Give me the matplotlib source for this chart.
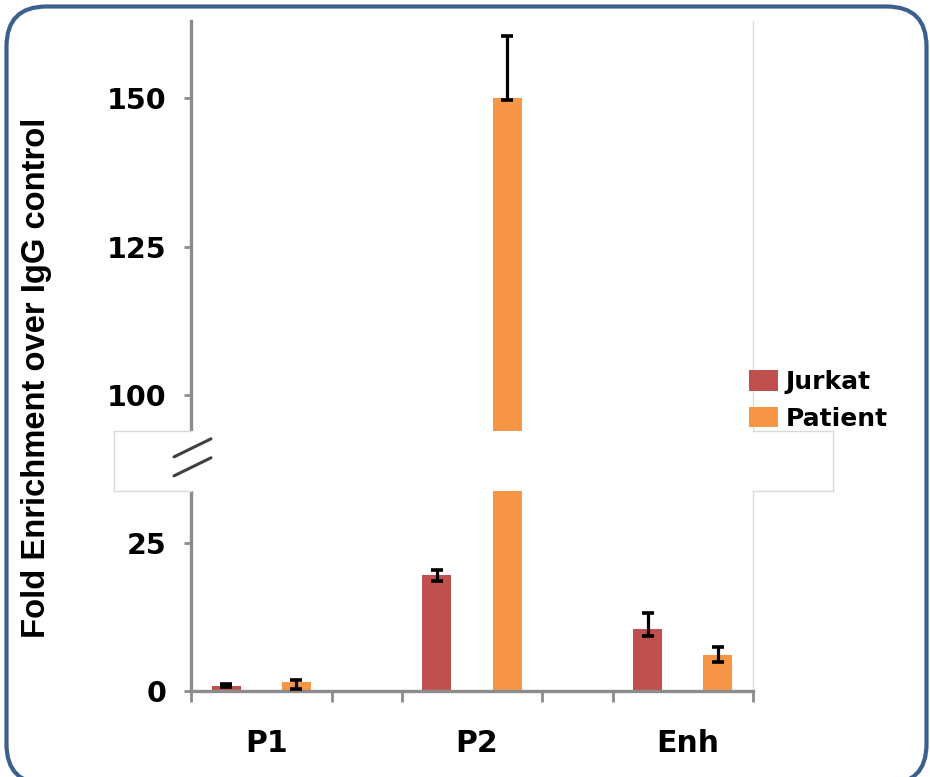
import matplotlib
matplotlib.use("Agg")
import matplotlib.pyplot as plt
from matplotlib.patches import FancyBboxPatch, Rectangle, Patch
from matplotlib.lines import Line2D
from matplotlib.transforms import IdentityTransform, ScaledTranslation
import numpy as np

plt.rcParams['font.family'] = ['DejaVu Sans']
plt.rcParams['font.weight'] = 'bold'

# ---- data ----
categories = ["P1", "P2", "Enh"]
series = ["Jurkat", "Patient"]
jurkat = [0.9, 19.6, 10.5]
jurkat_err_low = [0.2, 1.0, 1.2]
jurkat_err_high = [0.2, 0.8, 2.6]
patient = [1.5, 150.0, 6.1]
patient_err_low = [1.1, 0.3, 1.2]
patient_err_high = [0.3, 10.5, 1.4]
ytick_values = [0, 25, 100, 125, 150]

colors = {"Jurkat": "#C0504D", "Patient": "#F79646"}
BREAK_OFFSET = 50          # values above the break are shifted down by this
BREAK_LO, BREAK_HI = 33.7, 43.9   # displayed band hidden by the break (display units)

def disp(v):
    v = np.asarray(v, dtype=float)
    return np.where(v > BREAK_HI, v - BREAK_OFFSET, v)

W, H = 930, 777
fig = plt.figure(figsize=(W / 100, H / 100), dpi=100)
fig.patch.set_facecolor("white")

ax = fig.add_axes([191 / W, (H - 691) / H, 562 / W, (691 - 20.7) / H])
ax.set_xlim(-0.5, 7.5)
ax.set_ylim(0, 113.1)

# slots: Jurkat at 0,3,6 ; Patient at 1,4,7
x_j = np.arange(len(categories)) * 3
x_p = x_j + 1
bw = 0.41
ax.bar(x_j, disp(jurkat), width=bw, color=colors["Jurkat"], zorder=2)
ax.bar(x_p, disp(patient), width=bw, color=colors["Patient"], zorder=2)
ekw = dict(fmt="none", ecolor="black", elinewidth=2.3, capsize=4.5, capthick=2.6, zorder=3)
ax.errorbar(x_j, disp(jurkat), yerr=[jurkat_err_low, jurkat_err_high], **ekw)
ax.errorbar(x_p, disp(patient), yerr=[patient_err_low, patient_err_high], **ekw)

# spines
gray = "#8C8C8C"
ax.spines["top"].set_visible(False)
ax.spines["left"].set_color(gray)
ax.spines["left"].set_linewidth(2.4)
ax.spines["bottom"].set_color(gray)
ax.spines["bottom"].set_linewidth(2.4)
ax.spines["right"].set_color("#DDDDDD")
ax.spines["right"].set_linewidth(1.0)

# y ticks
ax.set_yticks(disp(ytick_values))
ax.set_yticklabels([str(v) for v in ytick_values])
ax.tick_params(axis="y", direction="out", length=5, width=2, color=gray,
               labelsize=20.5, pad=13)
for t in ax.get_yticklabels():
    t.set_fontweight("bold")

# x ticks
ax.set_xticks(x_j + 0.5)
ax.set_xticklabels(categories)
ax.tick_params(axis="x", which="major", length=0, labelsize=21.5, pad=27)
shift = ScaledTranslation(5 / 100, 0, fig.dpi_scale_trans)
for t in ax.get_xticklabels():
    t.set_fontweight("bold")
    t.set_transform(t.get_transform() + shift)
ax.set_xticks(np.arange(-0.5, 8.0, 1.0), minor=True)
ax.tick_params(axis="x", which="minor", direction="out", length=8, width=2, color=gray)

# y label
fig.text(37 / W, 1 - 378 / H, "Fold Enrichment over IgG control", rotation=90,
         ha="center", va="center", fontsize=23.6, fontweight="bold",
         family=["Liberation Sans", "DejaVu Sans"])

# break band
px = 562 / 8.0
x_left = -0.5 - (191 - 114) / px
x_right = 7.5 + (833 - 753) / px
ax.add_patch(Rectangle((x_left, BREAK_LO), x_right - x_left, BREAK_HI - BREAK_LO,
                       facecolor="white", edgecolor="none", zorder=5, clip_on=False))
edge = "#D9D9D9"
for xs, ys in [([x_left, -0.5], [BREAK_LO, BREAK_LO]), ([x_left, -0.5], [BREAK_HI, BREAK_HI]),
               ([x_left, x_left], [BREAK_LO, BREAK_HI]),
               ([7.5, x_right], [BREAK_LO, BREAK_LO]), ([7.5, x_right], [BREAK_HI, BREAK_HI]),
               ([x_right, x_right], [BREAK_LO, BREAK_HI])]:
    ax.add_line(Line2D(xs, ys, color=edge, lw=1.0, zorder=6, clip_on=False))
# break marks
xa, xb = -0.5 - 17 / px, -0.5 + 20 / px
for y0 in [39.5, 36.3]:
    ax.add_line(Line2D([xa, xb], [y0, y0 + 3.05], color="#404040", lw=2.2,
                       zorder=7, clip_on=False, solid_capstyle="round"))

# legend
handles = [Patch(facecolor=colors[s], edgecolor="none") for s in series]
leg = fig.legend(handles, series, loc="upper left", bbox_to_anchor=(749 / W, 1 - 370 / H),
                 frameon=False, fontsize=18, handlelength=1.15, handleheight=0.88,
                 handletextpad=0.3, labelspacing=0.5, borderpad=0, borderaxespad=0)
for t in leg.get_texts():
    t.set_fontweight("bold")

# rounded frame (pixel coords)
frame = FancyBboxPatch((6.5, H - 784), 920, 777.5, boxstyle="round,pad=0,rounding_size=40",
                       transform=IdentityTransform(), facecolor="none",
                       edgecolor="#3B5F8F", linewidth=3.0, clip_on=False)
fig.add_artist(frame)

fig.savefig("out.png", dpi=100, facecolor="white")
